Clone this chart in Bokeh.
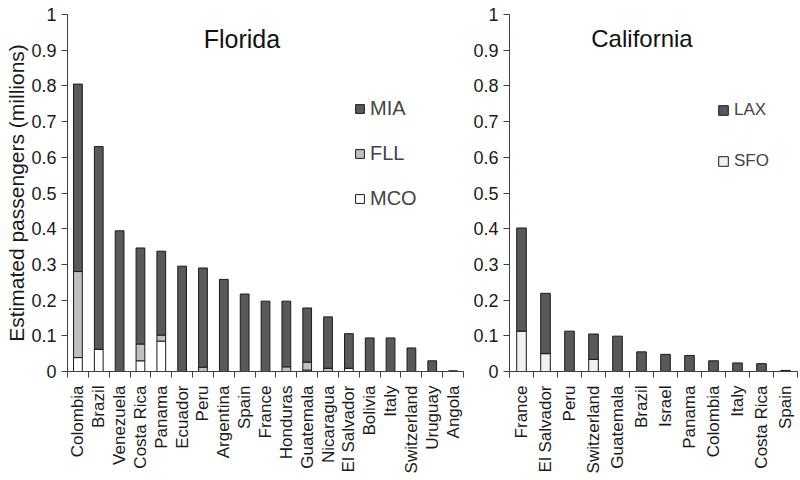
import math
from bokeh.plotting import figure
from bokeh.layouts import row
from bokeh.models import (Range1d, FixedTicker, Legend, LegendItem, Label)
from bokeh.embed import file_html
from bokeh.resources import INLINE

# ---------------- data ----------------
fl_countries = ["Colombia", "Brazil", "Venezuela", "Costa Rica", "Panama", "Ecuador",
                "Peru", "Argentina", "Spain", "France", "Honduras", "Guatemala",
                "Nicaragua", "El Salvador", "Bolivia", "Italy", "Switzerland",
                "Uruguay", "Angola"]
fl_mco = [0.039, 0.062, 0.0, 0.030, 0.085, 0.0, 0.0, 0.0, 0.0, 0.0, 0.0, 0.004,
          0.0, 0.009, 0.0, 0.0, 0.0, 0.0, 0.0]
fl_fll = [0.241, 0.0, 0.0, 0.047, 0.017, 0.0, 0.012, 0.0, 0.0, 0.0, 0.013, 0.022,
          0.009, 0.0, 0.0, 0.0, 0.0, 0.0, 0.0]
fl_mia = [0.525, 0.568, 0.394, 0.269, 0.235, 0.295, 0.278, 0.258, 0.217, 0.197,
          0.184, 0.152, 0.144, 0.097, 0.094, 0.094, 0.066, 0.030, 0.002]

ca_countries = ["France", "El Salvador", "Peru", "Switzerland", "Guatemala", "Brazil",
                "Israel", "Panama", "Colombia", "Italy", "Costa Rica", "Spain"]
ca_sfo = [0.113, 0.050, 0.0, 0.034, 0.0, 0.0, 0.0, 0.0, 0.0, 0.0, 0.0, 0.0]
ca_lax = [0.289, 0.169, 0.113, 0.071, 0.099, 0.055, 0.048, 0.045, 0.030, 0.024,
          0.022, 0.003]

y_ticks = [round(i * 0.1, 1) for i in range(11)]

FONT = "Liberation Sans"
DARK = "#595959"
AXIS = "#404040"
H = 476


def base_figure(countries, width, left, right, ylabel=None):
    n = len(countries)
    p = figure(width=width, height=H, output_backend="svg", toolbar_location=None,
               x_range=Range1d(0, n), y_range=Range1d(0, 1),
               min_border_left=left, min_border_right=right,
               min_border_top=14, min_border_bottom=105)
    p.outline_line_color = None
    p.xgrid.visible = False
    p.ygrid.visible = False
    centers = [i + 0.5 for i in range(n)]
    bounds = list(range(n + 1))
    xa = p.xaxis[0]
    xa.axis_label = None
    xa.axis_label_standoff = 0
    xa.ticker = FixedTicker(ticks=centers, minor_ticks=bounds)
    xa.major_label_overrides = {c: name for c, name in zip(centers, countries)}
    xa.major_label_orientation = math.pi / 2
    xa.major_tick_out = 0
    xa.major_tick_in = 0
    xa.minor_tick_out = 6
    xa.minor_tick_in = 0
    xa.minor_tick_line_color = AXIS
    xa.axis_line_color = AXIS
    xa.major_label_standoff = 8
    xa.major_label_text_font = FONT
    xa.major_label_text_font_size = "17px"
    xa.major_label_text_color = "#1a1a1a"

    ya = p.yaxis[0]
    ya.ticker = FixedTicker(ticks=y_ticks, minor_ticks=[])
    ya.major_label_overrides = {t: f"{t:g}" for t in y_ticks}
    ya.major_tick_out = 6
    ya.major_tick_in = 0
    ya.major_tick_line_color = AXIS
    ya.axis_line_color = AXIS
    ya.major_label_standoff = 5
    ya.major_label_text_font = FONT
    ya.major_label_text_font_size = "18px"
    ya.major_label_text_color = "#1a1a1a"
    if ylabel:
        ya.axis_label = ylabel
        ya.axis_label_standoff = 0
        ya.axis_label_text_font = FONT
        ya.axis_label_text_font_size = "21px"
        ya.axis_label_text_font_style = "normal"
        ya.axis_label_text_color = "#1a1a1a"
    else:
        ya.axis_label = None
    return p, centers


# ---------------- Florida ----------------
p1, fx = base_figure(fl_countries, 470, 67, 7, "Estimated passengers (millions)")
src1 = dict(x=fx, MCO=fl_mco, FLL=fl_fll, MIA=fl_mia)
r1 = p1.vbar_stack(["MCO", "FLL", "MIA"], x="x", width=0.42, source=src1,
                   fill_color=["#ffffff", "#c0c0c0", DARK],
                   line_color="#1a1a1a", line_width=1)
leg1 = Legend(items=[LegendItem(label="MIA", renderers=[r1[2]]),
                     LegendItem(label="FLL", renderers=[r1[1]]),
                     LegendItem(label="MCO", renderers=[r1[0]])],
              location=(287, 161), glyph_width=11, glyph_height=11,
              label_text_font=FONT, label_text_font_size="20px",
              label_height=22, spacing=22, padding=0, margin=0,
              label_standoff=5, border_line_alpha=0, background_fill_alpha=0)
p1.add_layout(leg1, "center")
p1.add_layout(Label(x=8.37, y=0.932, text="Florida", text_align="center",
                    text_baseline="alphabetic", text_font=FONT,
                    text_font_size="25px", text_color="#111111"))

# ---------------- California ----------------
p2, cx = base_figure(ca_countries, 328, 38, 1)
src2 = dict(x=cx, SFO=ca_sfo, LAX=ca_lax)
r2 = p2.vbar_stack(["SFO", "LAX"], x="x", width=0.4, source=src2,
                   fill_color=["#f0f0f0", DARK],
                   line_color="#1a1a1a", line_width=1)
leg2 = Legend(items=[LegendItem(label="LAX", renderers=[r2[1]]),
                     LegendItem(label="SFO", renderers=[r2[0]])],
              location=(208, 200), glyph_width=12, glyph_height=12,
              label_text_font=FONT, label_text_font_size="17px",
              label_height=20, spacing=31, padding=0, margin=0,
              label_standoff=5, border_line_alpha=0, background_fill_alpha=0)
p2.add_layout(leg2, "center")
p2.add_layout(Label(x=5.52, y=0.932, text="California", text_align="center",
                    text_baseline="alphabetic", text_font=FONT,
                    text_font_size="24px", text_color="#111111"))

layout = row(p1, p2)
open("out.html", "w").write(file_html(layout, INLINE))
